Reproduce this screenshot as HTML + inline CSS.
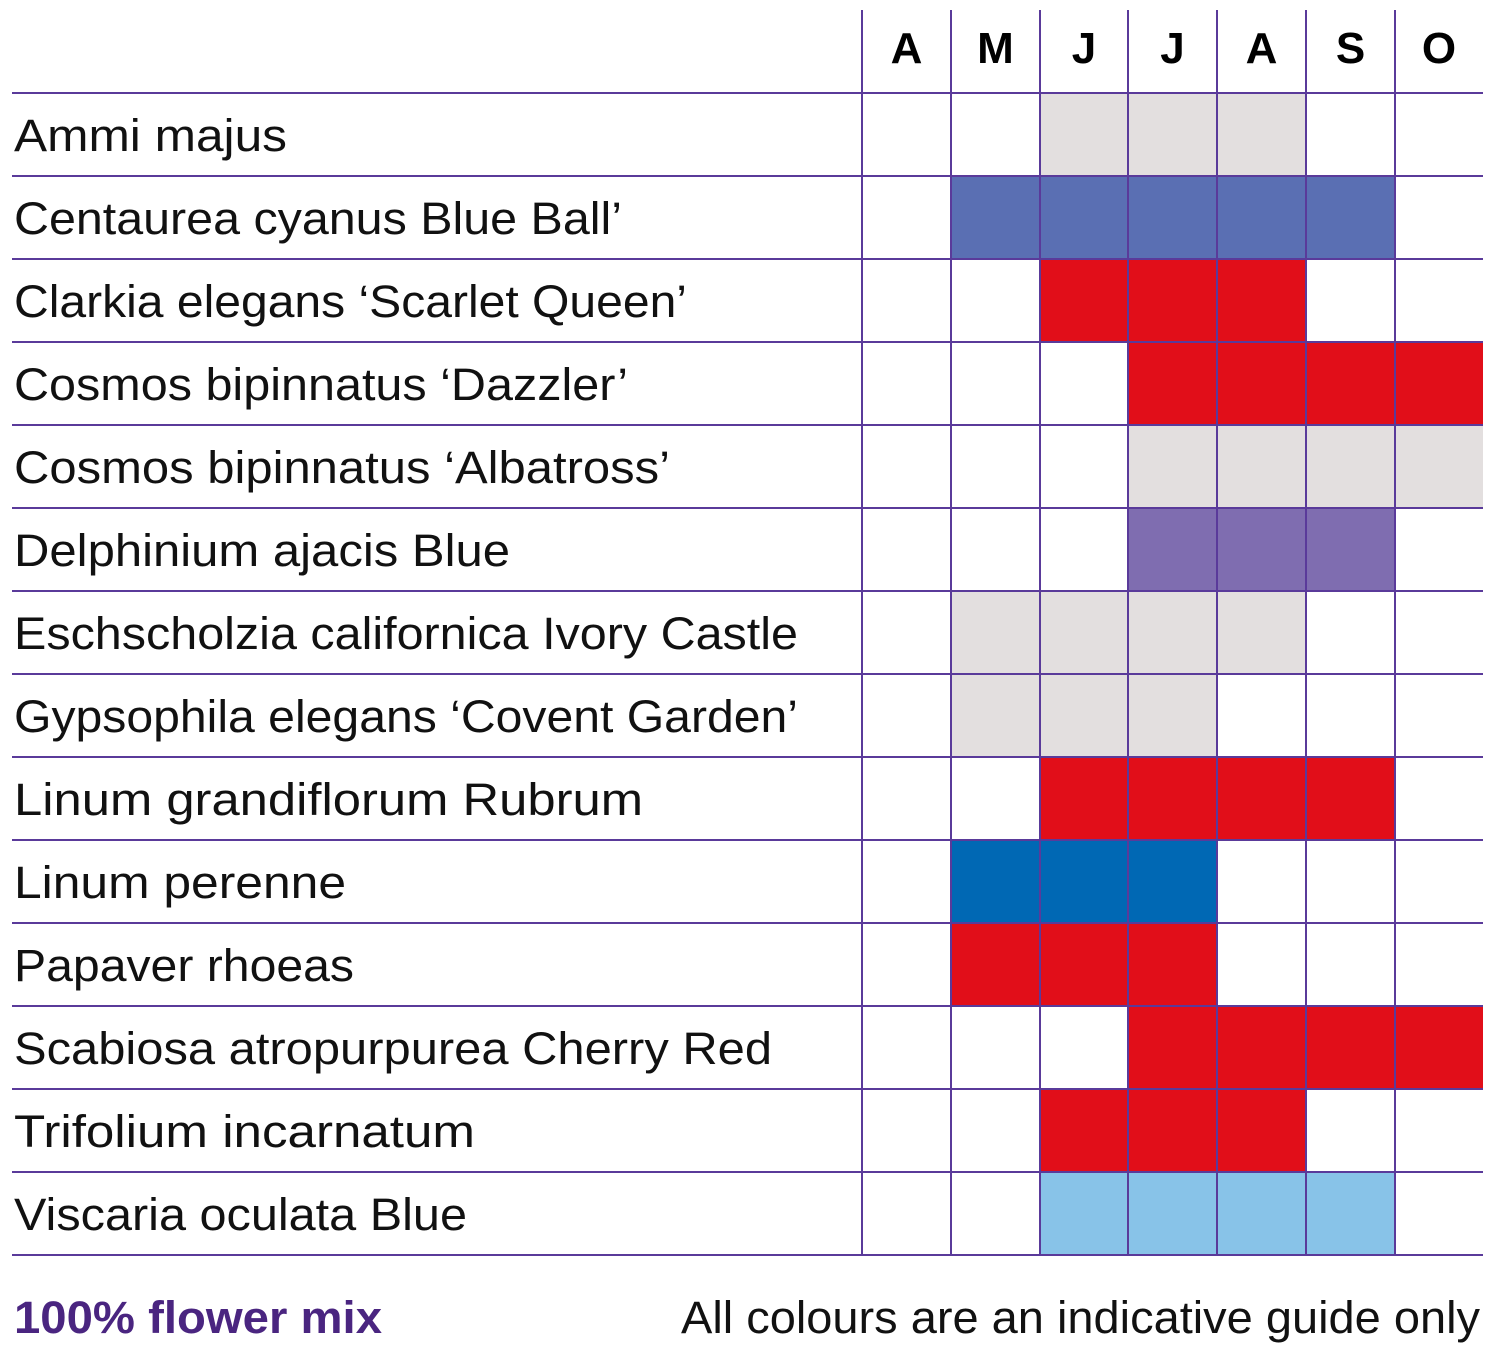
<!DOCTYPE html>
<html><head><meta charset="utf-8"><style>html,body{margin:0;padding:0;background:#fff;}svg{display:block}</style></head>
<body>
<svg width="1504" height="1362" xmlns="http://www.w3.org/2000/svg" font-family="Liberation Sans, sans-serif">
<rect x="1040" y="93" width="266" height="83" fill="#e3dfdf"/>
<rect x="951" y="176" width="444" height="83" fill="#5a6fb3"/>
<rect x="1040" y="259" width="266" height="83" fill="#e10e19"/>
<rect x="1128" y="342" width="355" height="83" fill="#e10e19"/>
<rect x="1128" y="425" width="355" height="83" fill="#e3dfdf"/>
<rect x="1128" y="508" width="267" height="83" fill="#7f6db0"/>
<rect x="951" y="591" width="355" height="83" fill="#e3dfdf"/>
<rect x="951" y="674" width="266" height="83" fill="#e3dfdf"/>
<rect x="1040" y="757" width="355" height="83" fill="#e10e19"/>
<rect x="951" y="840" width="266" height="83" fill="#0068b4"/>
<rect x="951" y="923" width="266" height="83" fill="#e10e19"/>
<rect x="1128" y="1006" width="355" height="83" fill="#e10e19"/>
<rect x="1040" y="1089" width="266" height="83" fill="#e10e19"/>
<rect x="1040" y="1172" width="355" height="83" fill="#88c3e8"/>
<g font-size="45" fill="#111" lengthAdjust="spacingAndGlyphs">
<text x="14" y="151" textLength="273" lengthAdjust="spacingAndGlyphs">Ammi majus</text>
<text x="14" y="234" textLength="608" lengthAdjust="spacingAndGlyphs">Centaurea cyanus Blue Ball’</text>
<text x="14" y="317" textLength="673" lengthAdjust="spacingAndGlyphs">Clarkia elegans ‘Scarlet Queen’</text>
<text x="14" y="400" textLength="614" lengthAdjust="spacingAndGlyphs">Cosmos bipinnatus ‘Dazzler’</text>
<text x="14" y="483" textLength="656" lengthAdjust="spacingAndGlyphs">Cosmos bipinnatus ‘Albatross’</text>
<text x="14" y="566" textLength="496" lengthAdjust="spacingAndGlyphs">Delphinium ajacis Blue</text>
<text x="14" y="649" textLength="784" lengthAdjust="spacingAndGlyphs">Eschscholzia californica Ivory Castle</text>
<text x="14" y="732" textLength="784" lengthAdjust="spacingAndGlyphs">Gypsophila elegans ‘Covent Garden’</text>
<text x="14" y="815" textLength="629" lengthAdjust="spacingAndGlyphs">Linum grandiflorum Rubrum</text>
<text x="14" y="898" textLength="332" lengthAdjust="spacingAndGlyphs">Linum perenne</text>
<text x="14" y="981" textLength="340" lengthAdjust="spacingAndGlyphs">Papaver rhoeas</text>
<text x="14" y="1064" textLength="758" lengthAdjust="spacingAndGlyphs">Scabiosa atropurpurea Cherry Red</text>
<text x="14" y="1147" textLength="461" lengthAdjust="spacingAndGlyphs">Trifolium incarnatum</text>
<text x="14" y="1230" textLength="453" lengthAdjust="spacingAndGlyphs">Viscaria oculata Blue</text>
</g>
<g stroke="#5a3a9a" stroke-width="2">
<line x1="12" x2="1483" y1="93" y2="93"/><line x1="12" x2="1483" y1="176" y2="176"/>
<line x1="12" x2="1483" y1="259" y2="259"/><line x1="12" x2="1483" y1="342" y2="342"/>
<line x1="12" x2="1483" y1="425" y2="425"/><line x1="12" x2="1483" y1="508" y2="508"/>
<line x1="12" x2="1483" y1="591" y2="591"/><line x1="12" x2="1483" y1="674" y2="674"/>
<line x1="12" x2="1483" y1="757" y2="757"/><line x1="12" x2="1483" y1="840" y2="840"/>
<line x1="12" x2="1483" y1="923" y2="923"/><line x1="12" x2="1483" y1="1006" y2="1006"/>
<line x1="12" x2="1483" y1="1089" y2="1089"/><line x1="12" x2="1483" y1="1172" y2="1172"/>
<line x1="12" x2="1483" y1="1255" y2="1255"/>
<line x1="862" x2="862" y1="10" y2="1256"/><line x1="951" x2="951" y1="10" y2="1256"/>
<line x1="1040" x2="1040" y1="10" y2="1256"/><line x1="1128" x2="1128" y1="10" y2="1256"/>
<line x1="1217" x2="1217" y1="10" y2="1256"/><line x1="1306" x2="1306" y1="10" y2="1256"/>
<line x1="1395" x2="1395" y1="10" y2="1256"/>
</g>
<g font-size="44" font-weight="bold" text-anchor="middle" fill="#000">
<text x="906.5" y="63">A</text><text x="995.5" y="63">M</text><text x="1084" y="63">J</text>
<text x="1172.5" y="63">J</text><text x="1261.5" y="63">A</text><text x="1350.5" y="63">S</text><text x="1439" y="63">O</text>
</g>
<text x="14" y="1333" font-size="45" font-weight="bold" fill="#4a2580" textLength="368" lengthAdjust="spacingAndGlyphs">100% flower mix</text>
<text x="681" y="1333" font-size="45" fill="#111" textLength="799" lengthAdjust="spacingAndGlyphs">All colours are an indicative guide only</text>
</svg>
</body></html>
